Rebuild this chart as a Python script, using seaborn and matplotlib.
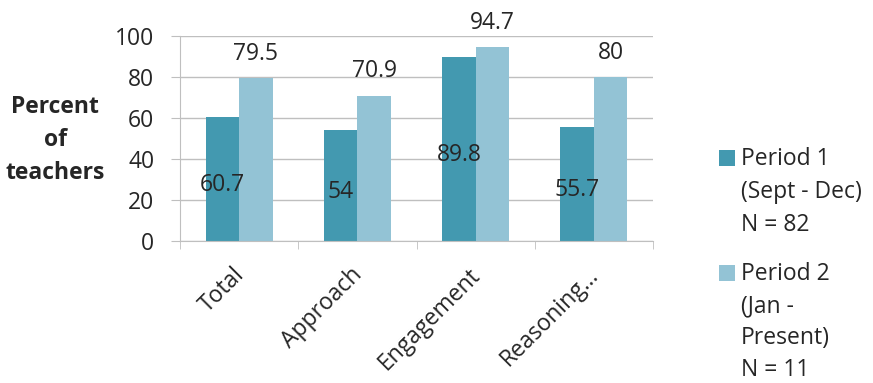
import matplotlib
matplotlib.use("Agg")
import matplotlib.pyplot as plt
import seaborn as sns
import pandas as pd
from matplotlib.ticker import FixedLocator
from matplotlib.patches import Rectangle
from matplotlib.transforms import ScaledTranslation

categories = ["Total", "Approach", "Engagement", "Reasoning\u2026"]
periods = ["Period 1\n(Sept - Dec)\nN = 82", "Period 2\n(Jan -\nPresent)\nN = 11"]
period1 = [60.7, 54, 89.8, 55.7]
period2 = [79.5, 70.9, 94.7, 80]
yticks = [0, 20, 40, 60, 80, 100]

dark = "#4399B0"
light = "#93C3D5"
grid_c = "#BFBFBF"
text_c = "#262626"

sns.set_style("white")
plt.rcParams["font.family"] = ["Open Sans", "DejaVu Sans"]
FS = 16.5
LS = 1.5

df = pd.DataFrame({
    "cat": categories * 2,
    "val": period1 + period2,
    "period": [periods[0]] * 4 + [periods[1]] * 4,
})

W, H = 873, 383
fig = plt.figure(figsize=(W / 100, H / 100), dpi=100)
ax = fig.add_axes([180 / W, 1 - 241 / H, 473 / W, 205 / H])

sns.barplot(data=df, x="cat", y="val", hue="period", palette=[dark, light],
            width=0.567, saturation=1, ax=ax, legend=False, linewidth=0,
            errorbar=None)

ax.set_ylim(0, 100)
ax.set_xlim(-0.5, 3.5)
ax.set_yticks(yticks)
ax.set_yticklabels([str(t) for t in yticks], fontsize=FS, color=text_c)
ax.yaxis.grid(True, color=grid_c, linewidth=1)
ax.set_axisbelow(True)
for s in ["top", "right"]:
    ax.spines[s].set_visible(False)
ax.spines["left"].set_color(grid_c)
ax.spines["bottom"].set_color(grid_c)
ax.tick_params(axis="y", length=6.5, color=grid_c, pad=12, left=True, direction="out")
ax.xaxis.set_minor_locator(FixedLocator([-0.5, 0.5, 1.5, 2.5, 3.5]))
ax.tick_params(axis="x", which="minor", length=5.5, color=grid_c, bottom=True, direction="out")
ax.tick_params(axis="x", which="major", length=0, pad=16)
shift = ScaledTranslation(-7 / 100, 0, fig.dpi_scale_trans)
for lab in ax.get_xticklabels():
    lab.set_rotation(45)
    lab.set_ha("right")
    lab.set_rotation_mode("anchor")
    lab.set_fontsize(FS)
    lab.set_color(text_c)
    lab.set_transform(lab.get_transform() + shift)
ax.set_xlabel("")
ax.set_ylabel("Percent\nof\nteachers", rotation=0, fontsize=FS, fontweight="bold",
              color=text_c, ha="center", va="center", linespacing=LS)
ax.yaxis.set_label_coords(-0.264, 0.493)

for bar, v in zip(ax.containers[0], period1):
    ax.annotate(f"{v:g}", (bar.get_x() + bar.get_width() / 2, bar.get_height() / 2),
                xytext=(0, -4.5), textcoords="offset points", ha="center", va="center",
                fontsize=FS, color=text_c)
for bar, v in zip(ax.containers[1], period2):
    ax.annotate(f"{v:g}", (bar.get_x() + bar.get_width() / 2, bar.get_height()),
                xytext=(0, 17.5), textcoords="offset points", ha="center", va="center",
                fontsize=FS, color=text_c)

# legend (drawn by hand to match the multi-line layout)
for color, label, y_top, ls in [(dark, periods[0], 150, 1.5), (light, periods[1], 265, 1.44)]:
    fig.add_artist(Rectangle((719 / W, 1 - (y_top + 16) / H), 16 / W, 16 / H,
                             transform=fig.transFigure, color=color, linewidth=0))
    fig.text(741 / W, 1 - (y_top - 3) / H, label, ha="left", va="top",
             fontsize=FS, color=text_c, linespacing=ls)

fig.savefig("out.png", dpi=100)
